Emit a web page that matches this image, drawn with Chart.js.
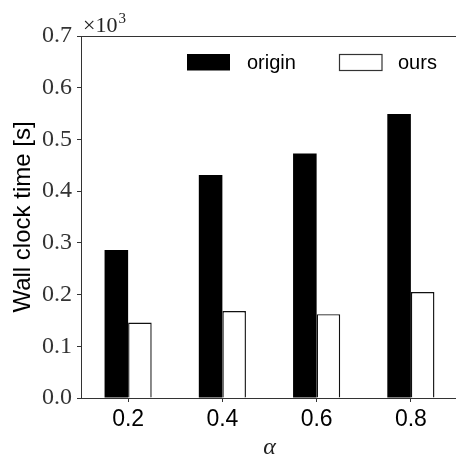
<!DOCTYPE html>
<html>
<head>
<meta charset="utf-8">
<script src="https://cdn.jsdelivr.net/npm/chart.js@4.4.1/dist/chart.umd.min.js"></script>
<style>
  html, body { margin: 0; padding: 0; background: #fff; overflow: hidden; }
  #wrap { width: 458px; height: 462px; }
</style>
</head>
<body>
<div id="wrap"><canvas id="c" width="458" height="462"></canvas></div>
<script>
// alpha values on the x axis
const alphas = ['0.2', '0.4', '0.6', '0.8'];
// wall clock time in seconds
const originTimes = [286, 431, 473, 549];
const oursTimes = [146, 168, 162, 205];
// y tick values (seconds), labelled in units of 10^3
const yTicks = [0, 100, 200, 300, 400, 500, 600, 700];

const SERIF = '"Liberation Serif", "DejaVu Serif", serif';
const SANS = '"Liberation Sans", Arial, sans-serif';
const AXIS_COLOR = '#333';

const framePlugin = {
  id: 'frame',
  afterDraw(chart) {
    const { ctx, chartArea: a } = chart;
    ctx.save();
    // top spine
    ctx.strokeStyle = AXIS_COLOR;
    ctx.lineWidth = 1;
    ctx.beginPath();
    ctx.moveTo(a.left, a.top + 0.5);
    ctx.lineTo(a.right, a.top + 0.5);
    ctx.stroke();

    // offset text for the y axis
    ctx.fillStyle = '#222';
    ctx.textBaseline = 'alphabetic';
    ctx.textAlign = 'left';
    ctx.font = '22px ' + SERIF;
    ctx.fillText('\u00d710', a.left + 2, a.top - 4);
    const w = ctx.measureText('\u00d710').width;
    ctx.font = '15px ' + SERIF;
    ctx.fillText('3', a.left + 2 + w + 1, a.top - 13);

    // legend
    const ds = chart.data.datasets;
    ctx.font = '20px ' + SANS;
    ctx.textBaseline = 'middle';
    ctx.fillStyle = ds[0].backgroundColor;
    ctx.fillRect(187, 54, 43, 16.5);
    ctx.fillStyle = '#000';
    ctx.fillText(ds[0].label, 247, 63);
    ctx.fillStyle = ds[1].backgroundColor;
    ctx.fillRect(339.5, 54.5, 42.5, 16);
    ctx.strokeStyle = '#333';
    ctx.lineWidth = 1.2;
    ctx.strokeRect(339.5, 54.5, 42.5, 16);
    ctx.fillStyle = '#000';
    ctx.fillText(ds[1].label, 398, 63);
    ctx.restore();
  }
};

new Chart(document.getElementById('c'), {
  type: 'bar',
  data: {
    labels: alphas,
    datasets: [
      {
        label: 'origin',
        data: originTimes,
        backgroundColor: '#000',
        borderWidth: 0,
        categoryPercentage: 0.5,
        barPercentage: 1.0
      },
      {
        label: 'ours',
        data: oursTimes,
        backgroundColor: '#fff',
        borderColor: '#111',
        borderWidth: 1.4,
        categoryPercentage: 0.5,
        barPercentage: 1.0
      }
    ]
  },
  options: {
    responsive: false,
    animation: false,
    layout: { padding: { top: 36, right: 0, left: 0, bottom: 0 } },
    plugins: { legend: { display: false }, tooltip: { enabled: false } },
    scales: {
      x: {
        type: 'category',
        offset: true,
        grid: {
          display: true,
          drawOnChartArea: false,
          drawTicks: true,
          tickLength: 4,
          color: AXIS_COLOR,
          offset: false
        },
        border: { display: true, color: AXIS_COLOR, width: 1 },
        ticks: {
          color: '#000',
          font: { family: SANS, size: 23 },
          padding: 4
        },
        title: {
          display: true,
          text: '\u03b1',
          color: '#222',
          font: { family: SERIF, size: 24, style: 'italic' },
          padding: { top: 0, bottom: 0 }
        },
        afterFit(scale) { scale.height = 64; }
      },
      y: {
        min: 0,
        max: 700,
        afterBuildTicks(scale) { scale.ticks = yTicks.map(v => ({ value: v })); },
        grid: {
          display: true,
          drawOnChartArea: false,
          drawTicks: true,
          tickLength: 4,
          color: AXIS_COLOR
        },
        border: { display: true, color: AXIS_COLOR, width: 1 },
        ticks: {
          color: '#333',
          font: { family: SERIF, size: 24 },
          padding: 5,
          callback: v => (v / 1000).toFixed(1)
        },
        title: {
          display: true,
          text: 'Wall clock time [s]',
          color: '#000',
          font: { family: SANS, size: 24 },
          padding: { top: 9, bottom: 4 }
        },
        afterFit(scale) { scale.width = 81; }
      }
    }
  },
  plugins: [framePlugin]
});
</script>
</body>
</html>
